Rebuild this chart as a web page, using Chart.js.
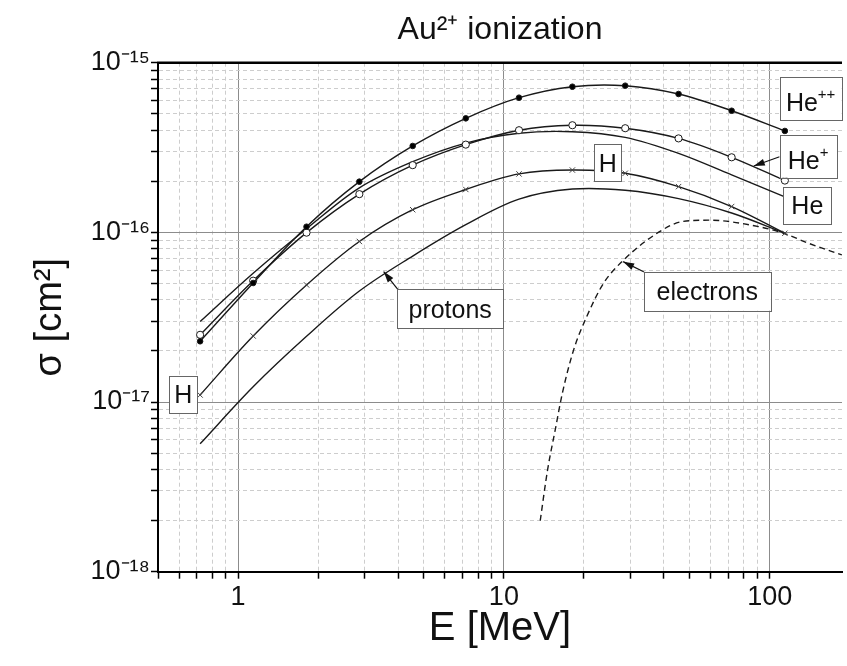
<!DOCTYPE html>
<html>
<head>
<meta charset="utf-8">
<title>Au2+ ionization</title>
<script src="https://cdn.jsdelivr.net/npm/chart.js@4.4.1/dist/chart.umd.min.js"></script>
<style>
  html, body { margin: 0; padding: 0; background: #fff; }
  #wrap { width: 847px; height: 666px; }
</style>
</head>
<body>
<div id="wrap"><canvas id="myChart" width="847" height="666"></canvas></div>
<script>
// values (E in MeV, sigma in cm^2)
const energy = [0.72, 1.14, 1.81, 2.86, 4.54, 7.19, 11.4, 18.1, 28.6, 45.4, 71.9, 114];
const heDoubleSigma = [2.28e-17, 5.03e-17, 1.08e-16, 1.99e-16, 3.23e-16, 4.70e-16, 6.22e-16, 7.22e-16, 7.32e-16, 6.54e-16, 5.21e-16, 3.96e-16];
const heSingleSigma = [2.49e-17, 5.19e-17, 9.96e-17, 1.68e-16, 2.49e-16, 3.29e-16, 4.00e-16, 4.28e-16, 4.11e-16, 3.58e-16, 2.77e-16, 2.02e-16];
const heNeutralSigma = [2.98e-17, 5.74e-17, 1.05e-16, 1.83e-16, 2.61e-16, 3.36e-16, 3.84e-16, 3.92e-16, 3.63e-16, 2.92e-16, 2.18e-16, 1.62e-16];
const hydrogenSigma = [1.10e-17, 2.45e-17, 4.90e-17, 8.84e-17, 1.36e-16, 1.79e-16, 2.21e-16, 2.33e-16, 2.23e-16, 1.86e-16, 1.42e-16, 9.88e-17];
const protonSigma = [5.67e-18, 1.23e-17, 2.44e-17, 4.51e-17, 7.25e-17, 1.11e-16, 1.57e-16, 1.80e-16, 1.77e-16, 1.58e-16, 1.30e-16, 9.88e-17];
const electronEnergy = [13.7, 14.6, 15.6, 16.6, 18.3, 20.5, 23.7, 27.8, 38.1, 47.1, 59.2, 91.0, 112.8, 139.9, 186.7];
const electronSigma = [2.0e-18, 3.98e-18, 6.85e-18, 1.13e-17, 2.03e-17, 3.19e-17, 5.01e-17, 6.72e-17, 9.99e-17, 1.16e-16, 1.18e-16, 1.08e-16, 9.88e-17, 8.63e-17, 7.36e-17];

// tick labels
const xTickValues = [1, 10, 100];
const xTickLabels = ['1', '10', '100'];
const yTickValues = [1e-18, 1e-17, 1e-16, 1e-15];
const yTickLabels = ['10⁻¹⁸', '10⁻¹⁷', '10⁻¹⁶', '10⁻¹⁵'];

// curve labels (position in data units, box size in px)
const curveLabels = [
    { text: 'He', sup: '++', e: 142.5, s: 6.17e-16, w: 62, h: 43 },
    { text: 'He', sup: '+', e: 139.5, s: 2.81e-16, w: 57, h: 43 },
    { text: 'He', sup: '', e: 138.5, s: 1.44e-16, w: 48, h: 37 },
    { text: 'H', sup: '', e: 24.6, s: 2.58e-16, w: 27, h: 37 },
    { text: 'H', sup: '', e: 0.623, s: 1.11e-17, w: 28, h: 37 },
    { text: 'protons', sup: '', e: 6.28, s: 3.55e-17, w: 106, h: 39 },
    { text: 'electrons', sup: '', e: 58.2, s: 4.50e-17, w: 127, h: 39 }
];
const arrows = [
    { from: [108.9, 2.79e-16], to: [87.1, 2.46e-16] },
    { from: [3.99, 4.62e-17], to: [3.53, 5.87e-17] },
    { from: [33.7, 5.84e-17], to: [28.1, 6.72e-17] }
];

const FONT = '"Liberation Sans", Arial, sans-serif';

function gridValues(min, max) {
    const out = [];
    for (let p = -19; p <= 3; p++) {
        for (let k = 1; k <= 9; k++) {
            const v = k * Math.pow(10, p);
            if (v >= min * 0.999 && v <= max * 1.001) out.push(v);
        }
    }
    return out;
}
function isDecade(v) {
    const l = Math.log10(v);
    return Math.abs(l - Math.round(l)) < 1e-6;
}
function labelFor(values, labels, v) {
    for (let i = 0; i < values.length; i++) {
        if (Math.abs(Math.log10(values[i]) - Math.log10(v)) < 1e-6) return labels[i];
    }
    return '';
}
function pts(xs, ys) {
    return xs.map((e, i) => ({ x: e, y: ys[i] }));
}

const frame = {
    id: 'frame',
    afterDatasetsDraw(chart) {
        const { ctx, chartArea } = chart;
        ctx.save();
        ctx.strokeStyle = '#000';
        ctx.lineWidth = 2.5;
        ctx.beginPath();
        ctx.moveTo(chartArea.left - 1, chartArea.top);
        ctx.lineTo(chartArea.right, chartArea.top);
        ctx.stroke();
        ctx.restore();
    }
};

const labelBoxes = {
    id: 'labelBoxes',
    afterDatasetsDraw(chart) {
        const { ctx } = chart;
        const xs = chart.scales.x, ys = chart.scales.y;
        ctx.save();
        ctx.strokeStyle = '#111';
        ctx.fillStyle = '#111';
        ctx.lineWidth = 1.2;
        arrows.forEach(a => {
            const x1 = xs.getPixelForValue(a.from[0]), y1 = ys.getPixelForValue(a.from[1]);
            const x2 = xs.getPixelForValue(a.to[0]), y2 = ys.getPixelForValue(a.to[1]);
            ctx.beginPath();
            ctx.moveTo(x1, y1);
            ctx.lineTo(x2, y2);
            ctx.stroke();
            const ang = Math.atan2(y2 - y1, x2 - x1);
            const len = 11, half = 3.5;
            ctx.beginPath();
            ctx.moveTo(x2, y2);
            ctx.lineTo(x2 - len * Math.cos(ang) + half * Math.sin(ang), y2 - len * Math.sin(ang) - half * Math.cos(ang));
            ctx.lineTo(x2 - len * Math.cos(ang) - half * Math.sin(ang), y2 - len * Math.sin(ang) + half * Math.cos(ang));
            ctx.closePath();
            ctx.fill();
        });
        curveLabels.forEach(l => {
            const cx = xs.getPixelForValue(l.e), cy = ys.getPixelForValue(l.s);
            ctx.fillStyle = '#fff';
            ctx.fillRect(cx - l.w / 2, cy - l.h / 2, l.w, l.h);
            ctx.strokeStyle = '#666';
            ctx.lineWidth = 1;
            ctx.strokeRect(Math.round(cx - l.w / 2) + 0.5, Math.round(cy - l.h / 2) + 0.5, l.w, l.h);
            ctx.fillStyle = '#111';
            ctx.textBaseline = 'alphabetic';
            ctx.textAlign = 'left';
            ctx.font = '25px ' + FONT;
            const bw = ctx.measureText(l.text).width;
            ctx.font = '15px ' + FONT;
            const sw = l.sup ? ctx.measureText(l.sup).width : 0;
            const x0 = cx - (bw + sw) / 2;
            const base = cy + 9 + (l.sup ? 4 : 0);
            ctx.font = '25px ' + FONT;
            ctx.fillText(l.text, x0, base);
            if (l.sup) {
                ctx.font = '15px ' + FONT;
                ctx.fillText(l.sup, x0 + bw, base - 12);
            }
        });
        ctx.restore();
    }
};

const lineStyle = {
    borderColor: '#1a1a1a',
    borderWidth: 1.4,
    fill: false,
    tension: 0.35,
    pointBorderColor: '#1a1a1a',
    pointBorderWidth: 1
};

const ctx = document.getElementById('myChart').getContext('2d');
const myChart = new Chart(ctx, {
    type: 'line',
    data: {
        datasets: [
            Object.assign({ label: 'He++', data: pts(energy, heDoubleSigma), pointStyle: 'circle', pointRadius: 2.8, pointBackgroundColor: '#000' }, lineStyle),
            Object.assign({ label: 'He+', data: pts(energy, heSingleSigma), pointStyle: 'circle', pointRadius: 3.6, pointBackgroundColor: '#fff' }, lineStyle),
            Object.assign({ label: 'He', data: pts(energy, heNeutralSigma), pointRadius: 0 }, lineStyle),
            Object.assign({ label: 'H', data: pts(energy, hydrogenSigma), pointStyle: 'crossRot', pointRadius: 3.8 }, lineStyle, { pointBorderColor: '#444' }),
            Object.assign({ label: 'protons', data: pts(energy, protonSigma), pointRadius: 0 }, lineStyle),
            Object.assign({ label: 'electrons', data: pts(electronEnergy, electronSigma), pointRadius: 0, borderDash: [6, 4] }, lineStyle, { tension: 0, cubicInterpolationMode: 'monotone' })
        ]
    },
    options: {
        responsive: false,
        animation: false,
        layout: { padding: 0 },
        plugins: {
            legend: { display: false },
            tooltip: { enabled: false },
            title: {
                display: true,
                text: 'Au²⁺ ionization',
                fullSize: false,
                color: '#111',
                font: { family: FONT, size: 32, weight: 'normal', lineHeight: 1.2 },
                padding: { top: 11, bottom: 13.3 }
            }
        },
        scales: {
            x: {
                type: 'logarithmic',
                min: 0.5,
                max: 187,
                afterBuildTicks: s => { s.ticks = gridValues(0.5, 187).map(v => ({ value: v, major: isDecade(v) })); },
                afterFit: s => { s.height = 94.3; },
                ticks: {
                    autoSkip: false, maxRotation: 0, minRotation: 0, padding: 3, color: '#111',
                    font: { family: FONT, size: 27 },
                    callback: v => labelFor(xTickValues, xTickLabels, v)
                },
                grid: {
                    color: c => (c.tick && isDecade(c.tick.value)) ? '#8c8c8c' : '#cdcdcd',
                    lineWidth: 1, tickColor: '#000', tickLength: 7, tickWidth: 1.5
                },
                border: { color: '#000', width: 2, dash: c => (c.type === 'tick' && !isDecade(c.tick.value)) ? [4, 3] : [] },
                title: { display: true, text: 'E [MeV]', color: '#111', font: { family: FONT, size: 40 }, padding: { top: 0, bottom: 13 } }
            },
            y: {
                type: 'logarithmic',
                min: 1e-18,
                max: 1e-15,
                afterBuildTicks: s => { s.ticks = gridValues(1e-18, 1e-15).map(v => ({ value: v, major: isDecade(v) })); },
                afterFit: s => { s.width = 158; },
                ticks: {
                    autoSkip: false, padding: 1, color: '#111',
                    font: { family: FONT, size: 27 },
                    callback: v => labelFor(yTickValues, yTickLabels, v)
                },
                grid: {
                    color: c => (c.tick && isDecade(c.tick.value)) ? '#8c8c8c' : '#cdcdcd',
                    lineWidth: 1, tickColor: '#000', tickLength: 7, tickWidth: 1.5
                },
                border: { color: '#000', width: 2, dash: c => (c.type === 'tick' && !isDecade(c.tick.value)) ? [4, 3] : [] },
                title: { display: true, text: 'σ [cm²]', color: '#111', font: { family: FONT, size: 38 }, padding: { top: 28, bottom: 0 } }
            }
        }
    },
    plugins: [frame, labelBoxes]
});
</script>
</body>
</html>
